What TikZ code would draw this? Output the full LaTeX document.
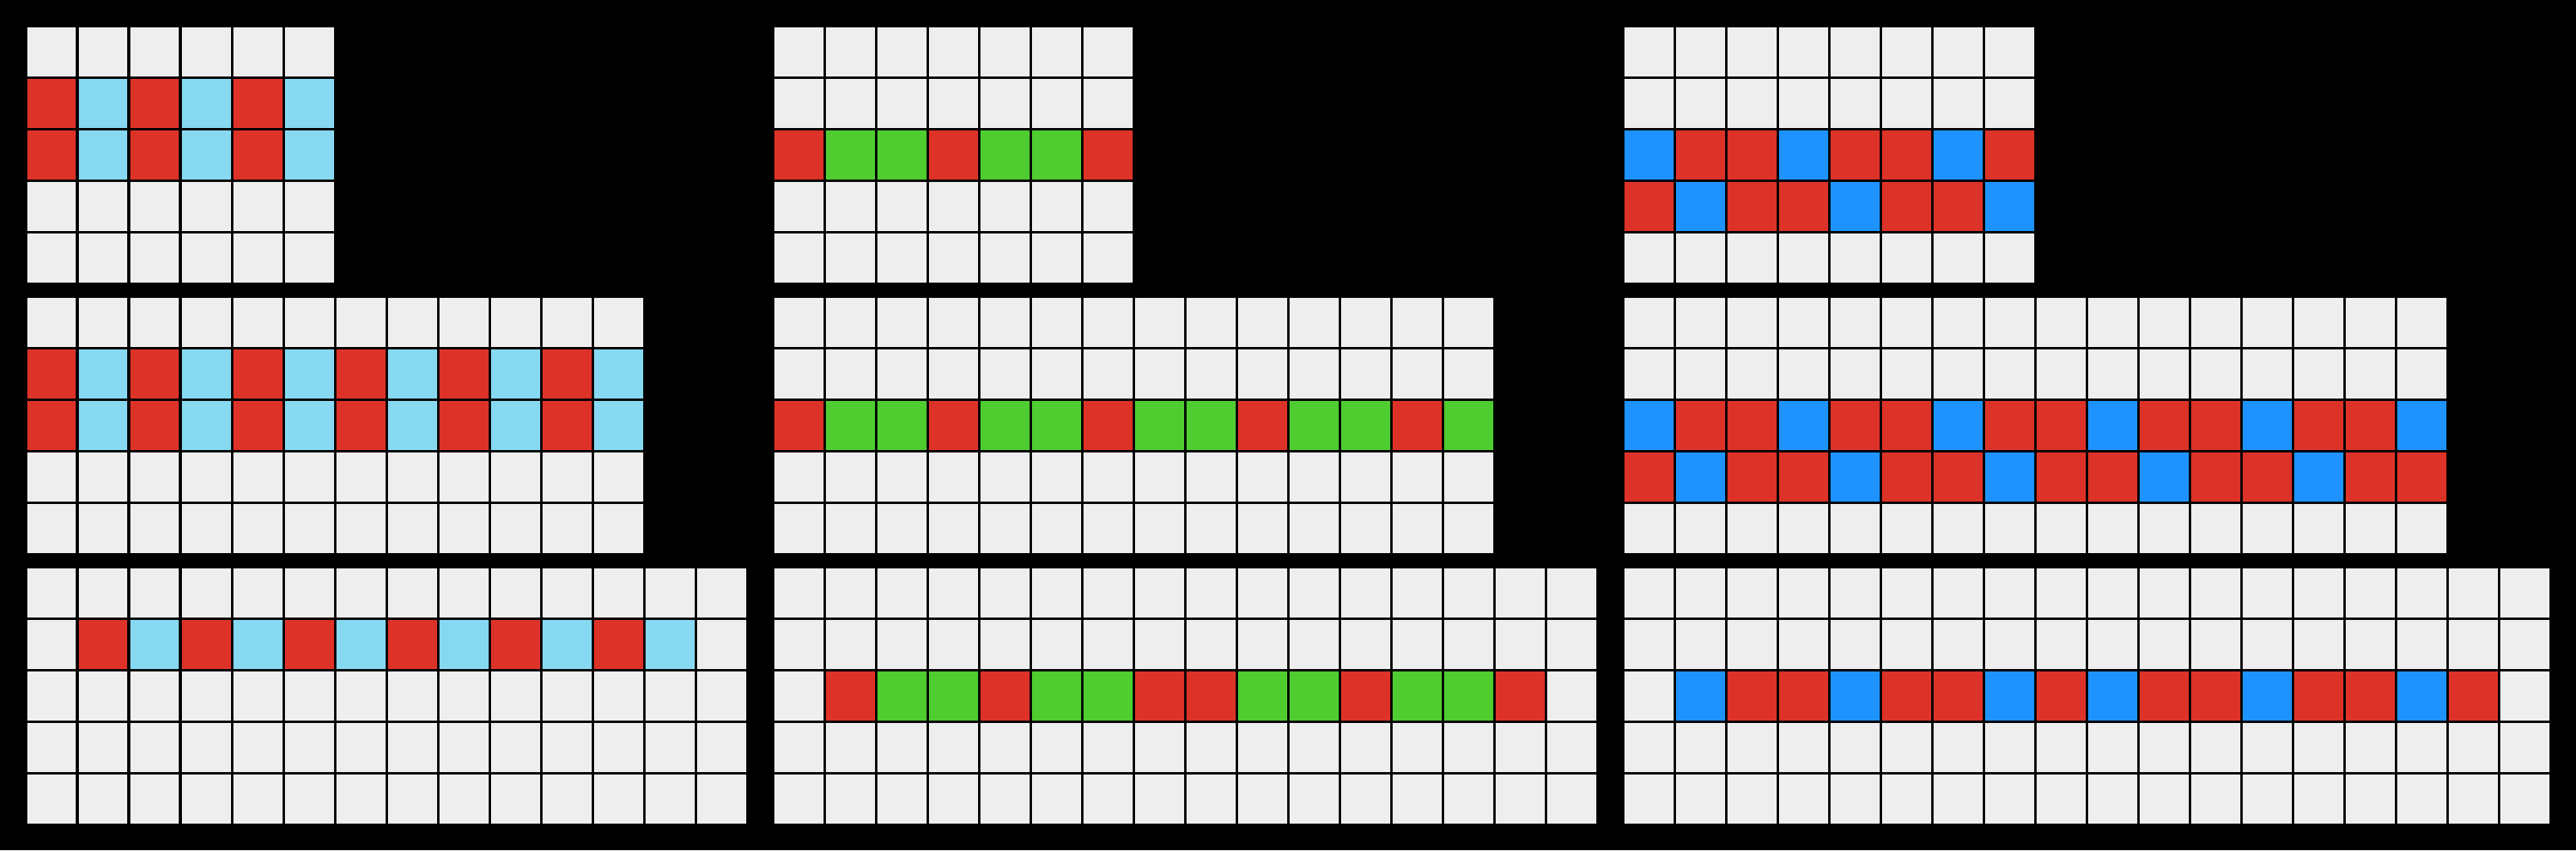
\documentclass[tikz,border=0pt]{standalone}
\usepackage{tikz}
\definecolor{colE}{HTML}{EEEEEE}
\definecolor{colR}{HTML}{DD3228}
\definecolor{colL}{HTML}{87D8F1}
\definecolor{colG}{HTML}{4FCC30}
\definecolor{colB}{HTML}{1E93FF}
\tikzset{cell/.style={draw=black,line width=0.047cm,fill=colE}}
\newcommand{\arcgrid}[4]{%
  \pgfmathtruncatemacro{\wm}{#3-1}%
  \pgfmathtruncatemacro{\hm}{#4-1}%
  \foreach \i in {0,...,\wm}{\foreach \j in {0,...,\hm}{\draw[cell] ({#1+\i},{-#2-\j}) rectangle ++(1,-1);}}}
\newcommand{\arcrow}[4]{%
  \foreach \c [count=\i from 0] in {#4}{\draw[cell,fill=col\c] ({#1+\i},{-#2-#3}) rectangle ++(1,-1);}}
\begin{document}
\begin{tikzpicture}
\useasboundingbox (0,0) rectangle (50,-16.5);
\fill[black] (0,0) rectangle (50,-16.5);
% column 1
\arcgrid{0.5}{0.5}{6}{5}
\arcrow{0.5}{0.5}{1}{R,L,R,L,R,L}
\arcrow{0.5}{0.5}{2}{R,L,R,L,R,L}
\arcgrid{0.5}{5.75}{12}{5}
\arcrow{0.5}{5.75}{1}{R,L,R,L,R,L,R,L,R,L,R,L}
\arcrow{0.5}{5.75}{2}{R,L,R,L,R,L,R,L,R,L,R,L}
\arcgrid{0.5}{11}{14}{5}
\arcrow{0.5}{11}{1}{E,R,L,R,L,R,L,R,L,R,L,R,L,E}
% column 2
\arcgrid{15}{0.5}{7}{5}
\arcrow{15}{0.5}{2}{R,G,G,R,G,G,R}
\arcgrid{15}{5.75}{14}{5}
\arcrow{15}{5.75}{2}{R,G,G,R,G,G,R,G,G,R,G,G,R,G}
\arcgrid{15}{11}{16}{5}
\arcrow{15}{11}{2}{E,R,G,G,R,G,G,R,R,G,G,R,G,G,R,E}
% column 3
\arcgrid{31.5}{0.5}{8}{5}
\arcrow{31.5}{0.5}{2}{B,R,R,B,R,R,B,R}
\arcrow{31.5}{0.5}{3}{R,B,R,R,B,R,R,B}
\arcgrid{31.5}{5.75}{16}{5}
\arcrow{31.5}{5.75}{2}{B,R,R,B,R,R,B,R,R,B,R,R,B,R,R,B}
\arcrow{31.5}{5.75}{3}{R,B,R,R,B,R,R,B,R,R,B,R,R,B,R,R}
\arcgrid{31.5}{11}{18}{5}
\arcrow{31.5}{11}{2}{E,B,R,R,B,R,R,B,R,B,R,R,B,R,R,B,R,E}
\end{tikzpicture}
\end{document}
